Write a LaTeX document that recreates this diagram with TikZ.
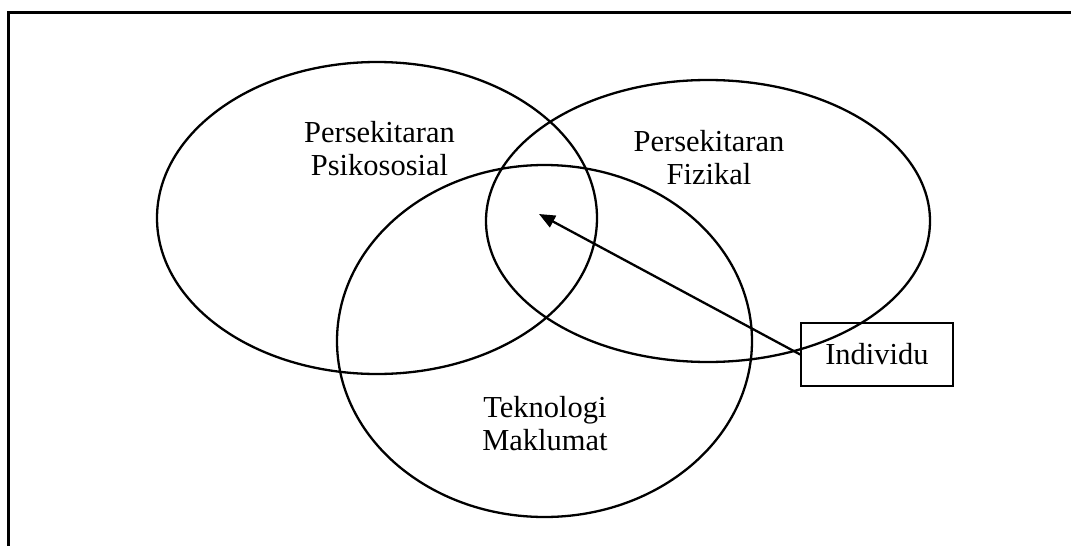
\documentclass[tikz,border=0pt]{standalone}
\usepackage{fontspec}
\setmainfont{Liberation Serif}
\usetikzlibrary{arrows.meta}
\begin{document}
\begin{tikzpicture}[x=1pt,y=-1pt,
  ring/.style={draw=black,line width=2.3pt},
  lbl/.style={font=\fontsize{30.5}{34}\selectfont,anchor=base,inner sep=0pt},
  boxnode/.style={draw=black,line width=1.6pt,minimum width=152pt,minimum height=63pt,inner sep=0pt,font=\fontsize{30.5}{34}\selectfont},
  arr/.style={line width=2.3pt,-{Triangle[length=16pt,width=13pt]}}]
\path[use as bounding box] (0,0) rectangle (1071,546);
\begin{scope}
\clip (0,0) rectangle (1071,546);
\draw[line width=3pt] (8.5,560) -- (8.5,12) -- (1080,12);
\end{scope}
\draw[ring] (377,218) ellipse [x radius=220, y radius=156];
\draw[ring] (708,221) ellipse [x radius=222, y radius=141];
\draw[ring] (544.5,341) ellipse [x radius=207.5, y radius=176];
\node[lbl] (psiA) at (379.5,142) {Persekitaran};
\node[lbl] (psiB) at (379.5,175) {Psikososial};
\node[lbl] (fizA) at (709,151) {Persekitaran};
\node[lbl] (fizB) at (709,184) {Fizikal};
\node[lbl] (tekA) at (545,417) {Teknologi};
\node[lbl] (tekB) at (545,450) {Maklumat};
\node[boxnode] (ind) at (877,354.5) {\raisebox{0pt}{Individu}};
\coordinate (tip) at (539,214);
\draw[arr] (ind.west) -- (tip);
\end{tikzpicture}
\end{document}
